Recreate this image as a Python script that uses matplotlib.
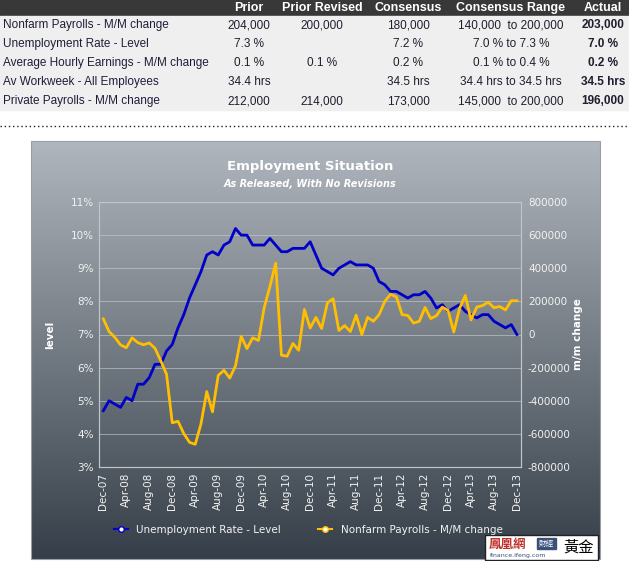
import numpy as np
import matplotlib
matplotlib.use('Agg')
import matplotlib.pyplot as plt
from matplotlib.patches import Rectangle
from matplotlib.lines import Line2D

# DATOS ---------------------------------
# tabla superior
filas = ['Nonfarm Payrolls - M/M change', 'Unemployment Rate - Level',
         'Average Hourly Earnings - M/M change', 'Av Workweek - All Employees',
         'Private Payrolls - M/M change']
columnas = ['Prior', 'Prior Revised', 'Consensus', 'Consensus Range', 'Actual']
prior = ['204,000', '7.3 %', '0.1 %', '34.4 hrs', '212,000']
prior_rev = ['200,000', '', '0.1 %', '', '214,000']
consenso = ['180,000', '7.2 %', '0.2 %', '34.5 hrs', '173,000']
rango = ['140,000  to 200,000', '7.0 % to 7.3 %', '0.1 % to 0.4 %',
         '34.4 hrs to 34.5 hrs', '145,000  to 200,000']
actual = ['203,000', '7.0 %', '0.2 %', '34.5 hrs', '196,000']

# grafica: mes de publicacion Dec-07 ... Dec-13
etiquetas_x = ['Dec-07', 'Apr-08', 'Aug-08', 'Dec-08', 'Apr-09', 'Aug-09', 'Dec-09',
               'Apr-10', 'Aug-10', 'Dec-10', 'Apr-11', 'Aug-11', 'Dec-11',
               'Apr-12', 'Aug-12', 'Dec-12', 'Apr-13', 'Aug-13', 'Dec-13']
desempleo = [4.7, 5.0, 4.9, 4.8, 5.1, 5.0, 5.5, 5.5, 5.7, 6.1, 6.1, 6.5, 6.7,
             7.2, 7.6, 8.1, 8.5, 8.9, 9.4, 9.5, 9.4, 9.7, 9.8, 10.2, 10.0,
             10.0, 9.7, 9.7, 9.7, 9.9, 9.7, 9.5, 9.5, 9.6, 9.6, 9.6, 9.8,
             9.4, 9.0, 8.9, 8.8, 9.0, 9.1, 9.2, 9.1, 9.1, 9.1, 9.0, 8.6,
             8.5, 8.3, 8.3, 8.2, 8.1, 8.2, 8.2, 8.3, 8.1, 7.8, 7.9, 7.7,
             7.8, 7.9, 7.7, 7.6, 7.5, 7.6, 7.6, 7.4, 7.3, 7.2, 7.3, 7.0]
nominas = [94, 18, -17, -63, -80, -20, -49, -62, -51, -84, -159, -240, -533,
           -524, -598, -651, -663, -539, -345, -467, -247, -216, -263, -190, -11,
           -85, -20, -36, 162, 290, 431, -125, -131, -54, -95, 151, 39,
           103, 36, 192, 216, 24, 54, 18, 117, 0, 103, 80, 120,
           200, 243, 227, 120, 115, 69, 80, 163, 96, 114, 165, 146,
           15, 157, 236, 88, 165, 175, 195, 162, 169, 148, 204, 203]  # miles

azul = '#0000c8'
amarillo = '#ffbf00'
claro = '#f2f2f2'
narrow = ['Liberation Sans Narrow', 'Liberation Sans', 'DejaVu Sans']

W, H = 629, 561
fig = plt.figure(figsize=(W/100, H/100), dpi=100)

# fondo en pixeles
bg = fig.add_axes([0, 0, 1, 1], zorder=0)
bg.set_xlim(0, W)
bg.set_ylim(H, 0)
bg.axis('off')

# TABLA
bg.add_patch(Rectangle((0, 0), W, 16, color='#383838'))
bg.add_patch(Rectangle((0, 16), W, 94, color='#efefef'))
xcol = [249, 322, 408, 511, 603]
for j, c in enumerate(columnas):
    bg.text(xcol[j], 7.5, c, color='white', fontweight='bold', fontsize=9,
            family=narrow, ha='center', va='center')
for i, f in enumerate(filas):
    y = 25 + 19*i
    bg.text(3, y, f, color='#1e1e3a', fontsize=8.5, family=narrow, va='center')
    valores = [prior[i], prior_rev[i], consenso[i], rango[i], actual[i]]
    for j, v in enumerate(valores):
        bg.text(xcol[j], y, v, color='#1e1e2e', fontsize=8.5, family=narrow,
                ha='center', va='center',
                fontweight='bold' if j == 4 else 'normal')
bg.plot([0, W], [126, 126], color='#222222', lw=1, ls=(0, (1, 2)))

# panel con degradado
grad = np.linspace(0, 1, 256)[:, None, None]
c1 = np.array([176, 182, 189]) / 255
c2 = np.array([54, 63, 73]) / 255
img = c1 * (1 - grad) + c2 * grad
bg.imshow(img, extent=[31, 600, 559, 141], aspect='auto', interpolation='bilinear')
bg.add_patch(Rectangle((31, 141), 569, 418, fill=False, ec='#9aa0a6', lw=0.8))
bg.set_xlim(0, W)
bg.set_ylim(H, 0)

bg.text(310, 166, 'Employment Situation', color='white', fontsize=9.5,
        fontweight='bold', ha='center', va='center')
bg.text(310, 184, 'As Released, With No Revisions', color='white', fontsize=7,
        fontweight='bold', style='italic', ha='center', va='center')

# GRAFICA
x = np.arange(len(desempleo))
ax = fig.add_axes([99.3/W, 1 - 467/H, 421.7/W, 265/H], zorder=1)
ax.patch.set_visible(False)
ax2 = ax.twinx()

ax.plot(x, desempleo, color=azul, lw=2, zorder=3)
ax2.plot(x, np.array(nominas)*1000, color=amarillo, lw=2, zorder=3)

ax.set_xlim(-0.7, len(x) - 1 + 0.7)
ax.set_ylim(3, 11)
ax.set_yticks(np.arange(3, 12, 1))
ax.set_yticklabels(['%d%%' % v for v in range(3, 12)])
ax2.set_ylim(-800000, 800000)
ax2.set_yticks(np.arange(-800000, 800001, 200000))
ax2.set_yticklabels(['%d' % v for v in range(-800000, 800001, 200000)])
ax.set_xticks(x[::4])
ax.set_xticklabels(etiquetas_x, rotation=90)

ax.grid(axis='y', color='#c8cdd2', lw=0.7, alpha=0.6)
for a in (ax, ax2):
    for s in a.spines.values():
        s.set_color('#c0c5ca')
        s.set_linewidth(0.8)
    a.tick_params(length=0, labelsize=7.5, labelcolor=claro)
ax.tick_params(axis='y', pad=4)
ax.tick_params(axis='x', pad=4)
ax2.tick_params(axis='y', pad=5)

ax.set_ylabel('level', color='white', fontweight='bold', fontsize=7.5)
ax.yaxis.set_label_coords(-0.105, 0.5)
ax2.set_ylabel('m/m change', color='white', fontweight='bold', fontsize=7.5)
ax2.yaxis.set_label_coords(1.123, 0.5)

# leyenda
h1 = Line2D([], [], color=azul, lw=1.5, marker='o', ms=4, mfc='white', mec=azul)
h2 = Line2D([], [], color=amarillo, lw=1.5, marker='o', ms=4, mfc='white', mec=amarillo)
leg = fig.legend([h1, h2], ['Unemployment Rate - Level', 'Nonfarm Payrolls - M/M change'],
                 loc='center', bbox_to_anchor=(308/W, 1 - 530/H), ncol=2,
                 frameon=False, fontsize=7.5, handlelength=1.4, columnspacing=3.5,
                 handletextpad=0.8)
for t in leg.get_texts():
    t.set_color(claro)

# marca de agua
wm = fig.add_axes([0, 0, 1, 1], zorder=5)
wm.set_xlim(0, W)
wm.set_ylim(H, 0)
wm.axis('off')
wm.add_patch(Rectangle((485, 535), 113, 25, fc='white', ec='#222222', lw=1))
cjk = ['Noto Sans CJK TC', 'DejaVu Sans']
wm.text(489, 544, '鳳凰網', color='#c0302a', fontsize=9, family=cjk,
        fontweight='bold', va='center')
wm.add_patch(Rectangle((537, 538), 19, 11, color='#3a4f7a'))
wm.text(546.5, 543.5, '財經', color='white', fontsize=5.5, family=cjk,
        ha='center', va='center')
wm.text(490, 555, 'finance.ifeng.com', color='#3a4f7a', fontsize=4.5, va='center')
wm.text(579, 547, '黃金', color='black', fontsize=11, family=cjk,
        ha='center', va='center')

fig.savefig('out.png', dpi=100)
